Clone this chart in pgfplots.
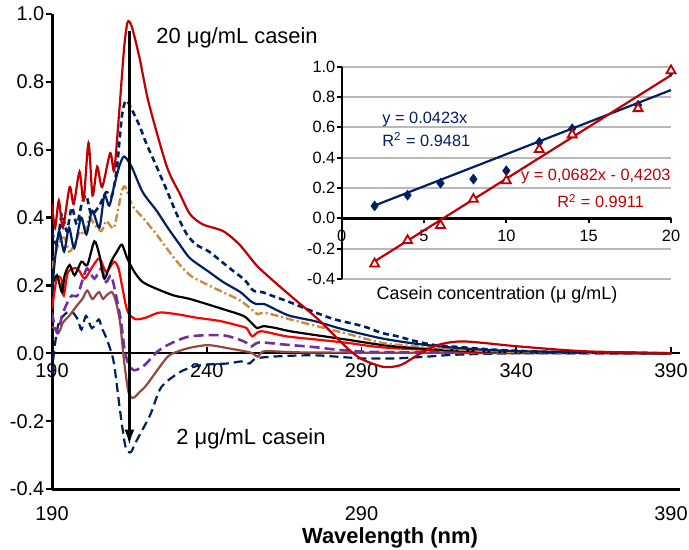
\documentclass[border=0pt]{standalone}
\usepackage{fontspec}
\setmainfont{Liberation Sans}
\usepackage{pgfplots}
\pgfplotsset{compat=1.18}
\usetikzlibrary{arrows.meta}

\definecolor{darkred}{RGB}{192,0,0}
\definecolor{navy}{RGB}{0,32,96}
\definecolor{peru}{RGB}{204,136,60}
\definecolor{cpurple}{RGB}{112,48,160}
\definecolor{cbrown}{RGB}{150,72,62}
\definecolor{cred}{RGB}{255,0,0}

\pgfplotsset{
  cd/.style={smooth, tension=0.45, line width=1.1bp},
  ticks10/.style={tick label style={font=\fontsize{10}{12}\selectfont}},
}

\begin{document}
\begin{tikzpicture}
% horizontal axis through zero, with its own labels
\begin{axis}[
  at={(26bp,30.5bp)}, anchor=south west, scale only axis,
  width=314bp, height=237.5bp,
  xmin=190, xmax=392.9, ymin=-0.4, ymax=1.0,
  axis x line=middle, axis y line=none,
  axis line style={-, line width=1.1bp},
  xtick={190,240,290,340,390}, xticklabels={190,240,290,340,390},
  ytick=\empty, ticks10,
  xtick align=inside, major tick length=3bp,
  x tick style={black, line width=0.8bp},
  xticklabel style={yshift=-1.5bp},
]
\end{axis}

\begin{axis}[
  at={(26bp,30.5bp)}, anchor=south west, scale only axis,
  width=314bp, height=237.5bp,
  xmin=190, xmax=392.9, ymin=-0.4, ymax=1.0,
  axis x line=bottom, axis y line=left,
  axis line style={-, line width=1.5bp},
  xtick={190,290,390}, xticklabels={190,290,390},
  x tick style={draw=none},
  ytick={-0.4,-0.2,0,0.2,0.4,0.6,0.8,1.0},
  yticklabels={-0.4,-0.2,0.0,0.2,0.4,0.6,0.8,1.0},
  y tick style={black, line width=1.2bp},
  tick align=outside, major tick length=3.2bp,
  yticklabel style={inner xsep=0.5bp},
  xticklabel style={yshift=-2bp},
  ticks10,
]
% 2 ug/mL
\addplot[cd, navy, dash pattern=on 4.5bp off 2.5bp] coordinates {
(190,-0.06) (190.8,0.015) (192.2,0.09) (194.8,0.12) (196.7,0.12) (198.3,0.10)
(199.5,0.07) (201,0.11) (202.9,0.074) (205.1,0.10) (206.1,0.074) (207.6,0.044)
(209.9,-0.024) (212,-0.17) (213.6,-0.27) (214.6,-0.29) (215.6,-0.29) (217.2,-0.26)
(221.8,-0.18) (225.3,-0.10) (231.8,-0.053) (238.3,-0.035) (246.7,-0.03)
(251.2,-0.024) (253.8,-0.03) (256,-0.015) (263,-0.009) (275,-0.006)
(290,-0.015) (301,-0.015) (311,-0.01) (321,-0.004) (341,0) (390,0)};
% 4
\addplot[cd, cbrown] coordinates {
(190,0.08) (192.3,0.065) (193.5,0.09) (195.5,0.11) (198,0.14) (199.8,0.16)
(201.4,0.185) (203,0.16) (204.5,0.175) (205.3,0.18) (206.5,0.16) (207.5,0.17)
(209.4,0.18) (210.7,0.15) (212,0.09) (213.3,-0.024) (214.6,-0.11) (215.6,-0.13)
(216.6,-0.13) (218.2,-0.115) (220.5,-0.094) (226.1,-0.024) (228.4,-0.003)
(234,0.015) (240.4,0.024) (246.8,0.015) (254.2,0.002) (256.4,-0.01)
(258.5,0.006) (266,0.004) (281,0.002) (390,0)};
% 6
\addplot[cd, cpurple, dash pattern=on 5bp off 2.5bp, line width=1.3bp] coordinates {
(190,0.12) (191,0.074) (192,0.06) (193.2,0.11) (195,0.15) (196.4,0.17)
(198.2,0.17) (200,0.22) (201.4,0.25) (203.7,0.22) (205.9,0.25) (207.5,0.21)
(209.1,0.23) (210.7,0.17) (212.3,0.094) (213.3,0.02) (214.6,-0.03)
(216.6,-0.05) (219.9,-0.035) (224.2,0.006) (228.6,0.03) (234.7,0.05)
(245.3,0.053) (252,0.035) (254.3,0.02) (257,0.032) (266,0.025) (275,0.018)
(284,0.009) (301,0.003) (390,0)};
% 8
\addplot[cd, cred] coordinates {
(190,0.13) (191.5,0.22) (193,0.22) (193.8,0.17) (195.2,0.24) (198.2,0.25)
(200.5,0.22) (202.7,0.25) (205.3,0.28) (207.5,0.24) (210,0.27) (211.5,0.25)
(212.6,0.20) (213.9,0.14) (214.9,0.115) (217.2,0.10) (220.3,0.105)
(224.8,0.12) (230.5,0.115) (236.6,0.105) (244.3,0.095) (250.9,0.08)
(252.9,0.074) (254.7,0.05) (257.5,0.065) (265.7,0.05) (276,0.04)
(286,0.03) (296,0.018) (311,0.01) (331,0.004) (390,0)};
% 10
\addplot[cd, black] coordinates {
(190,0.20) (191.6,0.23) (193.2,0.18) (194.1,0.23) (195.7,0.26) (197.3,0.23)
(199.5,0.27) (201.4,0.26) (203.7,0.33) (205.3,0.29) (206.9,0.22) (209.1,0.27)
(211,0.30) (212.6,0.32) (214.3,0.28) (216.6,0.24) (219.3,0.21) (223.8,0.19)
(229.5,0.17) (234.6,0.16) (245.3,0.13) (251.9,0.11) (254.4,0.09)
(256.3,0.074) (258.2,0.08) (262,0.075) (266.9,0.065) (275.6,0.053)
(285.4,0.04) (297,0.024) (307.7,0.015) (321.9,0.008) (342,0.003) (390,0)};
% 12
\addplot[cd, peru, dash pattern=on 4bp off 1.5bp on 1bp off 1.5bp, line width=1.2bp] coordinates {
(190,0.25) (191,0.29) (192.5,0.33) (194.1,0.34) (195.5,0.30) (197.3,0.32)
(199,0.36) (200.5,0.35) (202,0.40) (203.7,0.38) (205.9,0.36) (207.5,0.39)
(208.5,0.38) (210,0.37) (211.5,0.43) (212.6,0.48) (213.7,0.49) (216,0.435)
(219.3,0.40) (223.8,0.35) (229.5,0.28) (234.6,0.23) (240.7,0.20)
(245.3,0.18) (250.9,0.155) (254.4,0.13) (256.5,0.115) (258.2,0.12)
(263.1,0.11) (266.9,0.10) (275.6,0.08) (286.4,0.055) (297,0.03)
(308.7,0.02) (322.9,0.01) (342,0.004) (390,0)};
% 14
\addplot[cd, navy] coordinates {
(190,0.18) (191,0.28) (192.3,0.36) (193.9,0.30) (195.5,0.37) (197.2,0.31)
(199.4,0.40) (201.1,0.35) (203,0.42) (205.3,0.37) (206.9,0.465) (208.5,0.435)
(210,0.49) (211.7,0.55) (213.3,0.58) (215.7,0.55) (219.3,0.475)
(223.8,0.42) (227.4,0.37) (231.3,0.32) (234.6,0.28) (240.7,0.24)
(245.3,0.21) (250.9,0.18) (254,0.155) (256,0.145) (258.6,0.145)
(263.1,0.125) (267,0.11) (275.2,0.094) (284.3,0.07) (296.5,0.044)
(307.7,0.028) (321.9,0.015) (342,0.006) (390,0)};
% 18
\addplot[cd, navy, dash pattern=on 3bp off 2bp, line width=1.3bp] coordinates {
(190,0.36) (191.6,0.32) (193.2,0.41) (194.8,0.36) (196.4,0.43) (198,0.38)
(199.6,0.44) (201.1,0.465) (202.7,0.41) (205.3,0.435) (207.5,0.475)
(209.4,0.465) (211,0.55) (212.6,0.70) (213.9,0.745) (215.7,0.72)
(218.3,0.67) (220.4,0.62) (223.8,0.55) (227.1,0.48) (230.3,0.41)
(233.6,0.35) (236.6,0.32) (240.7,0.30) (244.8,0.27) (248.9,0.24)
(252.4,0.215) (255,0.185) (258,0.18) (261,0.17) (267,0.15) (275.2,0.12)
(281.3,0.10) (290.4,0.08) (296.5,0.06) (301.6,0.05) (307.7,0.035)
(313.8,0.024) (322,0.018) (334,0.01) (352,0.004) (390,0)};
% 20
\addplot[cd, darkred] coordinates {
(190,0.44) (191,0.37) (192.2,0.45) (193.5,0.37) (195.7,0.49) (197,0.44)
(198.9,0.535) (200.2,0.45) (201.8,0.62) (203.1,0.465) (204.6,0.55)
(206.2,0.49) (208.8,0.59) (210.1,0.54) (211.7,0.71) (213.3,0.90)
(214.4,0.975) (215.7,0.965) (218.3,0.87) (221.2,0.74) (227.1,0.55)
(231.3,0.47) (234.6,0.41) (238.7,0.38) (245.3,0.36) (250.6,0.32)
(256,0.26) (260.7,0.22) (267,0.17) (276,0.10) (284.4,0.024)
(289.6,-0.015) (297,-0.04) (302.6,-0.035) (308,-0.006) (314.5,0.024)
(323,0.035) (341,0.02) (362,0.006) (390,0)};

\draw[line width=1.5bp, -{Latex[length=8bp,width=5bp]}]
  (axis cs:215,0.95) -- (axis cs:215,-0.272);
\node[font=\fontsize{11}{13}\selectfont] at (axis cs:249.8,0.93) {20 μg/mL casein};
\node[font=\fontsize{11}{13}\selectfont] at (axis cs:254.3,-0.253) {2 μg/mL casein};
\end{axis}

% inset: calibration
\begin{axis}[
  at={(170.85bp,135.5bp)}, anchor=south west, scale only axis,
  width=164.65bp, height=106.15bp,
  xmin=0, xmax=20, ymin=-0.4, ymax=1.0,
  axis x line=middle, axis y line=left,
  axis line style={-, line width=1.2bp},
  xtick={0,5,10,15,20}, xticklabels={0,5,10,15,20},
  hide obscured x ticks=false,
  ytick={-0.4,-0.2,0,0.2,0.4,0.6,0.8,1.0},
  yticklabels={-0.4,-0.2,0.0,0.2,0.4,0.6,0.8,1.0},
  tick label style={font=\fontsize{8.2}{10}\selectfont},
  tick align=outside, major tick length=2.5bp,
  tick style={black, line width=0.9bp},
  yticklabel style={inner xsep=0.5bp},
  ymajorgrids, grid style={gray!55, line width=1bp},
  clip=false,
]
\addplot[navy, line width=1.1bp] coordinates {(2,0.0846) (20,0.846)};
\addplot[darkred, line width=1.1bp] coordinates {(2,-0.2839) (20,0.9437)};
\addplot[only marks, mark=diamond*, mark size=2.4bp, navy,
  mark options={fill=navy}] coordinates {
(2,0.082) (4,0.153) (6,0.232) (8,0.259) (10,0.314) (12,0.502) (14,0.591) (18,0.746) (20,0.97)};
\addplot[only marks, mark=triangle*, mark size=2.6bp, darkred,
  mark options={fill=white, line width=0.9bp}] coordinates {
(2,-0.30) (4,-0.146) (6,-0.046) (8,0.126) (10,0.248) (12,0.454) (14,0.551) (18,0.724) (20,0.974)};
\node[anchor=west, inner sep=0pt, navy, font=\fontsize{8.2}{10}\selectfont]
  at (axis cs:2.45,0.653) {y = 0.0423x};
\node[anchor=west, inner sep=0pt, navy, font=\fontsize{8.2}{10}\selectfont]
  at (axis cs:2.45,0.52) {R\textsuperscript{2} = 0.9481};
\node[anchor=east, inner sep=0pt, darkred, font=\fontsize{8.2}{10}\selectfont]
  at (axis cs:20,0.274) {y = 0,0682x - 0,4203};
\node[anchor=west, inner sep=0pt, darkred, font=\fontsize{8.2}{10}\selectfont]
  at (axis cs:13.07,0.115) {R\textsuperscript{2} = 0.9911};
\end{axis}

\node[font=\fontsize{9}{11}\selectfont] at (248.5bp,127.5bp) {Casein concentration (μ g/mL)};
\node[font=\bfseries\fontsize{11}{13}\selectfont] at (195bp,6bp) {Wavelength (nm)};

\pgfresetboundingbox
\path (0,0) rectangle (344.5bp,275bp);
\end{tikzpicture}
\end{document}
